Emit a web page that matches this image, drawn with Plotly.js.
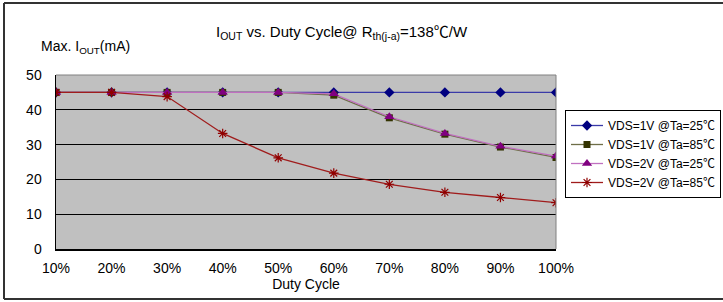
<!DOCTYPE html>
<html><head><meta charset="utf-8">
<script src="https://cdn.plot.ly/plotly-3.0.1.min.js"></script>
<style>html,body{margin:0;padding:0;background:#fff}</style>
</head><body><div id="c" style="width:723px;height:302px"></div>
<script>
var dutyCycle = ["10%","20%","30%","40%","50%","60%","70%","80%","90%","100%"];
var vds1v25 = [45,45,45,45,45,45,45,45,45,45];
var vds1v85 = [45,45,45,45,45,44.2,37.7,33.0,29.3,26.3];
var vds2v25 = [45,45,45,45,45,44.6,38.0,33.2,29.5,26.7];
var vds2v85 = [45,45,43.8,33.2,26.2,21.8,18.6,16.3,14.8,13.3];
var DEG = '<span style="font-family:Noto Sans CJK SC">\u2103</span>';
var seriesNames = ["VDS=1V @Ta=25"+DEG,"VDS=1V @Ta=85"+DEG,"VDS=2V @Ta=25"+DEG,"VDS=2V @Ta=85"+DEG];

var F = "Liberation Sans, Arial, sans-serif";
var traces = [
 {x:dutyCycle,y:vds1v25,name:seriesNames[0],mode:"lines+markers",
  line:{color:"#3a3aa8",width:1.3},marker:{symbol:"diamond",size:8,color:"#000080"}},
 {x:dutyCycle,y:vds1v85,name:seriesNames[1],mode:"lines+markers",
  line:{color:"#6e6e48",width:1.3},marker:{symbol:"square",size:7,color:"#333300"}},
 {x:dutyCycle,y:vds2v25,name:seriesNames[2],mode:"lines+markers",
  line:{color:"#c070c0",width:1.3},marker:{symbol:"triangle-up",size:9,color:"#800080"}},
 {x:dutyCycle,y:vds2v85,name:seriesNames[3],mode:"lines+markers",
  line:{color:"#a01c1c",width:1.3},marker:{symbol:"asterisk-open",size:8,color:"#900000",line:{color:"#900000",width:1.2}}}
];
var L = 56, R = 556, T = 75, B = 249;
var W = R-L, H = B-T;
function px(x){return (x-L)/W;}
function py(y){return (B-y)/H;}
var layout = {
  width:723,height:302,
  margin:{l:L,r:723-R,t:T,b:302-B,pad:0},
  paper_bgcolor:"#fff",plot_bgcolor:"#c0c0c0",
  font:{family:F,size:14,color:"#000"},
  showlegend:true,
  legend:{xref:"container",yref:"container",x:565/723,y:1-110/302,xanchor:"left",yanchor:"top",bgcolor:"#fff",
    bordercolor:"#000",borderwidth:1,font:{family:F,size:12,color:"#000"},
    tracegroupgap:0,itemwidth:32},
  xaxis:{type:"category",range:[0,9],showgrid:false,zeroline:false,
    showline:true,linecolor:"#000",linewidth:1.5,ticks:"outside",ticklen:6,tickcolor:"rgba(0,0,0,0)",
    tickfont:{family:F,size:14,color:"#000"},
    title:{text:"Duty Cycle",font:{family:F,size:14,color:"#000"},standoff:0}},
  yaxis:{range:[0,50],dtick:10,showgrid:true,gridcolor:"#000",gridwidth:1,zeroline:false,
    showline:true,linecolor:"#000",linewidth:1.5,ticks:"outside",ticklen:10,tickcolor:"rgba(0,0,0,0)",
    tickfont:{family:F,size:14,color:"#000"}},
  annotations:[
    {xref:"paper",yref:"paper",x:px(342),y:py(31),xanchor:"center",yanchor:"middle",showarrow:false,
     text:"I<sub>OUT</sub> vs. Duty Cycle@ R<sub>th(j-a)</sub>=138"+DEG+"/W",font:{family:F,size:15,color:"#000"}},
    {xref:"paper",yref:"paper",x:px(39),y:py(47),xanchor:"left",yanchor:"middle",showarrow:false,
     text:"Max. I<sub>OUT</sub>(mA)",font:{family:F,size:14,color:"#000"}}
  ],
  shapes:[
    {type:"line",xref:"paper",yref:"paper",x0:0,x1:1,y0:1,y1:1,line:{color:"#808080",width:1}},
    {type:"line",xref:"paper",yref:"paper",x0:1,x1:1,y0:0,y1:1,line:{color:"#808080",width:1}},
    {type:"line",xref:"paper",yref:"paper",x0:px(4),x1:px(740),y0:py(3),y1:py(3),line:{color:"#333",width:2}},
    {type:"line",xref:"paper",yref:"paper",x0:px(4),x1:px(740),y0:py(299),y1:py(299),line:{color:"#333",width:2}},
    {type:"line",xref:"paper",yref:"paper",x0:px(4),x1:px(4),y0:py(3),y1:py(299),line:{color:"#333",width:2}}
  ]
};
Plotly.newPlot("c",traces,layout,{displayModeBar:false,staticPlot:true});
</script></body></html>
